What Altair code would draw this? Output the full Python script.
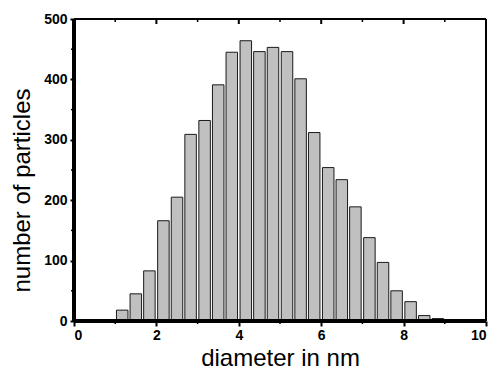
import altair as alt
import pandas as pd

# bin centres (nm) and counts
diameters = [1.17, 1.50, 1.83, 2.17, 2.50, 2.83, 3.17, 3.50, 3.83, 4.17, 4.50, 4.83,
             5.17, 5.50, 5.83, 6.17, 6.50, 6.83, 7.17, 7.50, 7.83, 8.17, 8.50, 8.83]
counts = [18, 45, 83, 166, 205, 309, 332, 391, 445, 464, 446, 453,
          446, 401, 312, 254, 234, 189, 138, 97, 50, 32, 9, 4]

x_major = [0, 2, 4, 6, 8, 10]
x_minor = [1, 3, 5, 7, 9]
x_top_major = [2, 4, 6, 8]
y_major = [0, 100, 200, 300, 400, 500]
y_minor = [50, 150, 250, 350, 450]

df = pd.DataFrame({"diameter": diameters, "count": counts})

FONT = "Liberation Sans"
xs = alt.Scale(domain=[0, 10], nice=False, zero=False, padding=0)
ys = alt.Scale(domain=[0, 500], nice=False, padding=0)

bars = alt.Chart(df).mark_bar(size=11.5, fill="#c0c0c0", stroke="#1a1a1a", strokeWidth=1).encode(
    x=alt.X("diameter:Q", scale=xs,
            axis=alt.Axis(values=x_major, title="diameter in nm", grid=False,
                          tickSize=5, tickWidth=2, tickColor="black",
                          domain=False,
                          labelFont=FONT, labelFontWeight="bold", labelFontSize=14,
                          labelColor="black", labelPadding=2,
                          titleFont=FONT, titleFontSize=24, titleFontWeight="normal",
                          titleColor="black", titleY=44, titleBaseline="alphabetic")),
    y=alt.Y("count:Q", scale=ys,
            axis=alt.Axis(values=y_major, title="number of particles", grid=False,
                          tickSize=4, tickWidth=2, tickColor="black",
                          domain=False,
                          labelFont=FONT, labelFontWeight="bold", labelFontSize=14,
                          labelColor="black", labelPadding=3,
                          titleFont=FONT, titleFontSize=24, titleFontWeight="normal",
                          titleColor="black", titleX=-45, titleY=171,
                          titleBaseline="alphabetic", titleAlign="center")),
)

bottom_minor = alt.Chart(pd.DataFrame({"v": x_minor})).mark_rule(color="black", strokeWidth=1.5).encode(
    x=alt.X("v:Q", scale=xs), y=alt.value(302), y2=alt.value(305))
top_minor = alt.Chart(pd.DataFrame({"v": x_minor})).mark_rule(color="black", strokeWidth=1.5).encode(
    x=alt.X("v:Q", scale=xs), y=alt.value(0), y2=alt.value(3))
top_major = alt.Chart(pd.DataFrame({"v": x_top_major})).mark_rule(color="black", strokeWidth=2).encode(
    x=alt.X("v:Q", scale=xs), y=alt.value(0), y2=alt.value(5))
left_minor = alt.Chart(pd.DataFrame({"v": y_minor})).mark_rule(color="black", strokeWidth=1.5).encode(
    y=alt.Y("v:Q", scale=ys), x=alt.value(-3), x2=alt.value(0))

# plot frame drawn through the scales
base = alt.Chart(df)
frame_bottom = base.mark_rule(color="black", strokeWidth=2.5).encode(
    x=alt.datum(0, scale=xs), x2=alt.datum(10), y=alt.datum(0, scale=ys))
frame_top = base.mark_rule(color="black", strokeWidth=2).encode(
    x=alt.datum(0, scale=xs), x2=alt.datum(10), y=alt.datum(500, scale=ys))
frame_left = base.mark_rule(color="black", strokeWidth=2.5).encode(
    x=alt.datum(0, scale=xs), y=alt.datum(0, scale=ys), y2=alt.datum(500))
frame_right = base.mark_rule(color="black", strokeWidth=2).encode(
    x=alt.datum(10, scale=xs), y=alt.datum(0, scale=ys), y2=alt.datum(500))

chart = alt.layer(bars, bottom_minor, top_minor, top_major, left_minor,
                  frame_bottom, frame_top, frame_left, frame_right).properties(
    width=412, height=302,
    background="white",
    autosize=alt.AutoSizeParams(type="none"),
    padding={"left": 74, "top": 19, "right": 10, "bottom": 49},
).configure_view(stroke=None)

chart.save("out.html", embed_options={"renderer": "svg", "actions": False})
